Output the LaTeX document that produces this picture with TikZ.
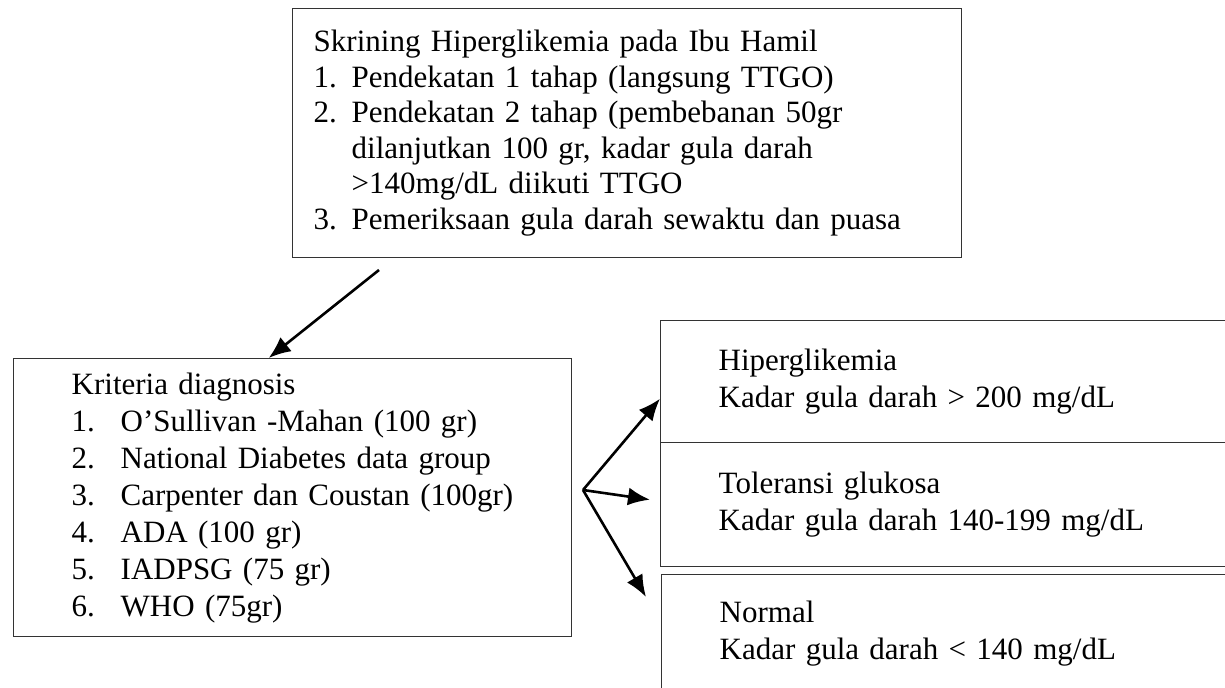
\documentclass[tikz,border=0pt]{standalone}
\usepackage{fontspec}
\setmainfont{Liberation Serif}
\usetikzlibrary{arrows.meta}
\newcommand{\butir}[3]{\mbox{\makebox[#1][l]{#2}#3}}

\begin{document}
\begin{tikzpicture}[x=0.5pt,y=-0.5pt,
  kotak/.style={draw=black!80, line width=0.7pt, anchor=north west, align=left,
    inner ysep=0pt, inner xsep=29pt, text width=260pt,
    font=\fontsize{15.5}{18.5}\selectfont},
  panah/.style={-{Latex[length=11pt,width=9pt]}, line width=1.3pt}]
\clip (0,0) rectangle (1225,688);
\node[kotak, inner xsep=10.5pt, text width=313.5pt, minimum height=124.5pt,
  font=\fontsize{15.5}{17.75}\selectfont] (skrining) at (292,8)
  {Skrining Hiperglikemia pada Ibu Hamil\\
   \butir{19pt}{1.}{Pendekatan 1 tahap (langsung TTGO)}\\
   \butir{19pt}{2.}{Pendekatan 2 tahap (pembebanan 50gr}\\
   \butir{19pt}{}{dilanjutkan 100 gr, kadar gula darah}\\
   \butir{19pt}{}{>140mg/dL diikuti TTGO}\\
   \butir{19pt}{3.}{Pemeriksaan gula darah sewaktu dan puasa}};
\node[kotak, text width=221pt, minimum height=139pt] (kriteria) at (13,358)
  {Kriteria diagnosis\\
   \butir{24.5pt}{1.}{O’Sullivan -Mahan (100 gr)}\\
   \butir{24.5pt}{2.}{National Diabetes data group}\\
   \butir{24.5pt}{3.}{Carpenter dan Coustan (100gr)}\\
   \butir{24.5pt}{4.}{ADA (100 gr)}\\
   \butir{24.5pt}{5.}{IADPSG (75 gr)}\\
   \butir{24.5pt}{6.}{WHO (75gr)}};
\node[kotak, minimum height=61pt] (hiper) at (660,320)
  {Hiperglikemia\\Kadar gula darah > 200 mg/dL};
\node[kotak, minimum height=62pt] (toler) at (660,442)
  {Toleransi glukosa\\Kadar gula darah 140-199 mg/dL};
\node[kotak, minimum height=58.5pt] (normal) at (661,574)
  {Normal\\Kadar gula darah < 140 mg/dL};
\coordinate (awal) at (379,270);
\coordinate (cabang) at (583,490);
\draw[panah] (awal) -- ([xshift=-12pt]kriteria.north);
\draw[panah] (cabang) -- ([yshift=-8.5pt]hiper.west);
\draw[panah] (cabang) -- ([xshift=-5pt,yshift=2.5pt]toler.west);
\draw[panah] (cabang) -- ([xshift=-7.5pt,yshift=-11.5pt]normal.north west);
\end{tikzpicture}
\end{document}
